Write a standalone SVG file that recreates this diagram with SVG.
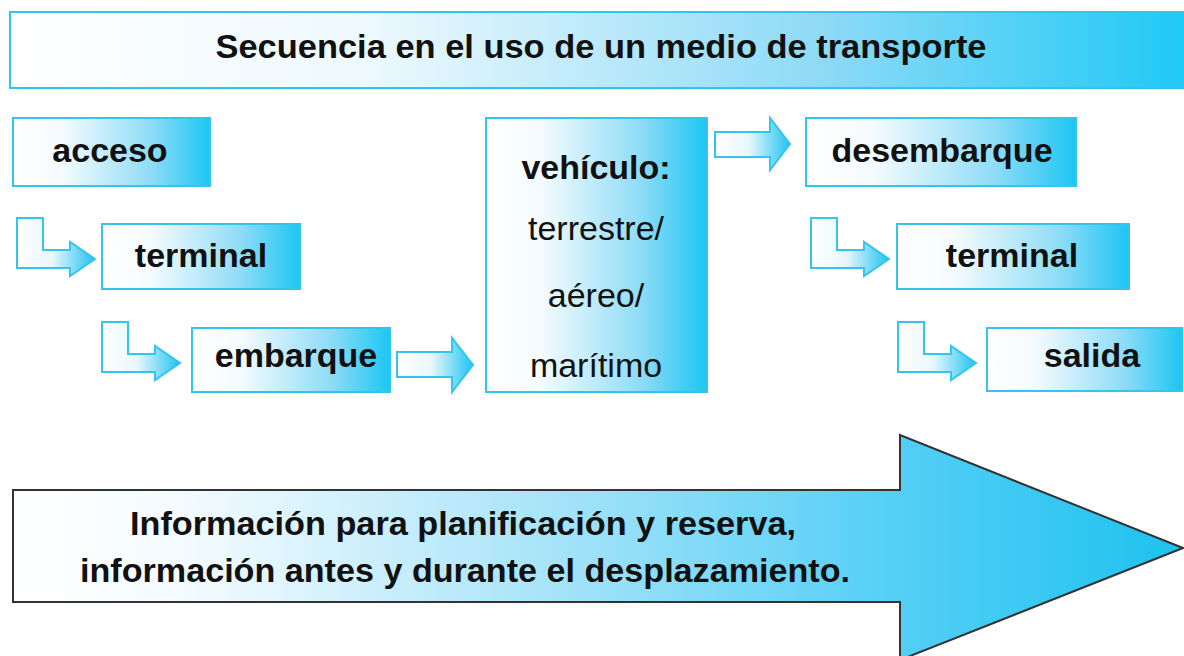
<svg xmlns="http://www.w3.org/2000/svg" width="1184" height="656" viewBox="0 0 1184 656">
<defs>
<linearGradient id="gBox" x1="0" y1="0" x2="1" y2="0">
<stop offset="0" stop-color="#ffffff"/>
<stop offset="0.25" stop-color="#f4fbfe"/>
<stop offset="0.7" stop-color="#8fdcf7"/>
<stop offset="1" stop-color="#1cc6f3"/>
</linearGradient>
<linearGradient id="gTitle" x1="0" y1="0" x2="1" y2="0">
<stop offset="0" stop-color="#ffffff"/>
<stop offset="0.3" stop-color="#eef9fe"/>
<stop offset="0.7" stop-color="#8ad9f6"/>
<stop offset="1" stop-color="#1ec9f6"/>
</linearGradient>
<linearGradient id="gArrow" x1="0" y1="0" x2="1" y2="0">
<stop offset="0" stop-color="#ffffff"/>
<stop offset="0.45" stop-color="#e8f7fd"/>
<stop offset="1" stop-color="#1fc3f0"/>
</linearGradient>
<linearGradient id="gBig" gradientUnits="userSpaceOnUse" x1="13" y1="0" x2="1183" y2="0">
<stop offset="0" stop-color="#ffffff"/>
<stop offset="0.15" stop-color="#f3fbfe"/>
<stop offset="0.45" stop-color="#a9e4f9"/>
<stop offset="0.75" stop-color="#55cff6"/>
<stop offset="1" stop-color="#1ec2ef"/>
</linearGradient>
<path id="larrow" d="M17,218 H43 V250 H70 V242 L95,259 L70,276 V268 H17 Z"/>
</defs>
<style>
.box{fill:url(#gBox);stroke:#35c4ec;stroke-width:2}
.arr{fill:url(#gArrow);stroke:#35c4ec;stroke-width:2;stroke-linejoin:miter}
.t{font-family:"Liberation Sans",Arial,sans-serif;font-size:34px;fill:#111;text-anchor:middle}
.b{font-weight:bold}
</style>
<rect width="1184" height="656" fill="#ffffff"/>

<g id="title">
<rect x="10" y="12" width="1180" height="76" fill="url(#gTitle)" stroke="#35c4ec" stroke-width="2"/>
<text class="t b" x="601" y="58" font-size="33" textLength="771" lengthAdjust="spacingAndGlyphs">Secuencia en el uso de un medio de transporte</text>
</g>

<g id="acceso">
<rect class="box" x="13" y="118" width="197" height="68"/>
<text class="t b" x="110" y="162">acceso</text>
</g>
<g id="terminal1">
<rect class="box" x="102" y="224" width="198" height="65"/>
<text class="t b" x="201" y="267">terminal</text>
</g>
<g id="embarque">
<rect class="box" x="192" y="328" width="198" height="64"/>
<text class="t b" x="296" y="367">embarque</text>
</g>
<g id="vehiculo">
<rect class="box" x="486" y="118" width="221" height="274"/>
<text class="t b" x="596" y="179">vehículo:</text>
<text class="t" x="596" y="240">terrestre/</text>
<text class="t" x="596" y="307">aéreo/</text>
<text class="t" x="596" y="377">marítimo</text>
</g>
<g id="desembarque">
<rect class="box" x="806" y="118" width="270" height="68"/>
<text class="t b" x="942" y="162">desembarque</text>
</g>
<g id="terminal2">
<rect class="box" x="897" y="224" width="232" height="65"/>
<text class="t b" x="1012" y="267">terminal</text>
</g>
<g id="salida">
<rect class="box" x="987" y="328" width="195" height="63"/>
<text class="t b" x="1092" y="367">salida</text>
</g>

<g id="connectors">
<use href="#larrow" class="arr"/>
<use href="#larrow" class="arr" transform="translate(85,104)"/>
<path class="arr" d="M397,352 H452 V338 L473,365 L452,392 V377 H397 Z"/>
<path class="arr" d="M715,132 H770 V118 L790,144 L770,170 V157 H715 Z"/>
<use href="#larrow" class="arr" transform="translate(794,0)"/>
<use href="#larrow" class="arr" transform="translate(881,104)"/>
</g>

<g id="informacion">
<path d="M13,490 H900 V435 L1183,548 L900,660 V602 H13 Z" fill="url(#gBig)" stroke="#333" stroke-width="2"/>
<text class="t b" x="463" y="535" font-size="33" textLength="666" lengthAdjust="spacingAndGlyphs">Información para planificación y reserva,</text>
<text class="t b" x="465" y="582" font-size="33" textLength="770" lengthAdjust="spacingAndGlyphs">información antes y durante el desplazamiento.</text>
</g>
</svg>
